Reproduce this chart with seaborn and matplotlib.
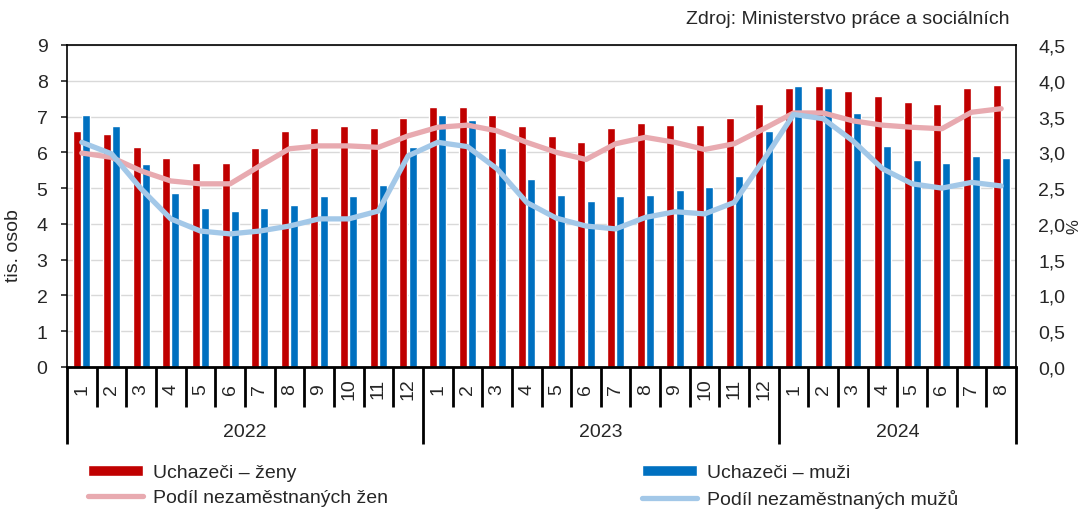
import numpy as np
import pandas as pd
import matplotlib
matplotlib.use("Agg")
import matplotlib.pyplot as plt
import seaborn as sns
from matplotlib.ticker import FuncFormatter

# --------------------------------------------
# DATA
# --------------------------------------------
months = [str(m) for m in range(1, 13)] * 2 + [str(m) for m in range(1, 9)]
years = ["2022"] * 12 + ["2023"] * 12 + ["2024"] * 8

uchazeci_zeny = [6.60, 6.51, 6.16, 5.84, 5.70, 5.70, 6.11, 6.60, 6.69, 6.73, 6.69, 6.96,
                 7.28, 7.28, 7.04, 6.73, 6.46, 6.28, 6.69, 6.82, 6.77, 6.77, 6.96, 7.36,
                 7.81, 7.85, 7.71, 7.58, 7.41, 7.36, 7.81, 7.89]
uchazeci_muzi = [7.05, 6.73, 5.66, 4.86, 4.45, 4.37, 4.45, 4.54, 4.77, 4.77, 5.08, 6.16,
                 7.05, 6.91, 6.11, 5.25, 4.80, 4.63, 4.77, 4.80, 4.94, 5.03, 5.35, 6.60,
                 7.85, 7.81, 7.09, 6.19, 5.79, 5.70, 5.89, 5.84]
podil_zeny = [2.99, 2.93, 2.74, 2.60, 2.56, 2.56, 2.81, 3.05, 3.09, 3.09, 3.07, 3.23,
              3.35, 3.38, 3.30, 3.14, 3.00, 2.90, 3.12, 3.21, 3.14, 3.04, 3.12, 3.33,
              3.55, 3.55, 3.44, 3.38, 3.35, 3.33, 3.56, 3.61]
podil_muzi = [3.14, 2.98, 2.49, 2.07, 1.90, 1.86, 1.90, 1.97, 2.07, 2.07, 2.18, 2.95,
              3.14, 3.08, 2.77, 2.30, 2.08, 1.97, 1.93, 2.09, 2.17, 2.14, 2.30, 2.90,
              3.53, 3.47, 3.16, 2.77, 2.56, 2.50, 2.58, 2.53]

lbl_zeny = "Uchazeči – ženy"
lbl_muzi = "Uchazeči – muži"
lbl_pz = "Podíl nezaměstnaných žen"
lbl_pm = "Podíl nezaměstnaných mužů"

RED, BLUE = "#C00000", "#0070C0"
PINK, LBLUE = "#E8AAB0", "#A3C8E8"

# --------------------------------------------
# STYLE
# --------------------------------------------
sns.set_style("white")
plt.rcParams["font.family"] = ["Liberation Sans", "DejaVu Sans"]
plt.rcParams["font.size"] = 14

n = len(months)
pos = np.arange(n)
df = pd.DataFrame({
    "pos": np.concatenate([pos, pos]),
    "val": uchazeci_zeny + uchazeci_muzi,
    "serie": [lbl_zeny] * n + [lbl_muzi] * n,
})

fig = plt.figure(figsize=(10.83, 5.10), dpi=100)
ax = fig.add_axes([67 / 1083, 1 - 368 / 510, 949 / 1083, 322 / 510])

sns.barplot(data=df, x="pos", y="val", hue="serie", palette=[RED, BLUE],
            saturation=1, width=0.62, gap=0.13, errorbar=None, legend=False, ax=ax)

ax.set_xlim(-0.5, n - 0.5)
ax.set_ylim(0, 9)
ax.set_yticks(range(0, 10))
ax.set_axisbelow(True)
ax.yaxis.grid(True, color="#D9D9D9", linewidth=1)
ax.set_xticks([])
ax.set_xlabel("")
ax.set_ylabel("tis. osob", fontsize=14)
ax.yaxis.set_label_coords(-0.047, 0.38)
ax.tick_params(axis="y", length=4, width=1.2, direction="out", pad=10, labelsize=14, left=True)
for s in ax.spines.values():
    s.set_visible(True)
    s.set_color("black")
    s.set_linewidth(1.2)
ax.spines["bottom"].set_linewidth(2)

# right axis with percentage lines
ax2 = ax.twinx()
sns.lineplot(x=pos, y=podil_zeny, color=PINK, linewidth=3.8, ax=ax2,
             solid_joinstyle="round", solid_capstyle="round")
sns.lineplot(x=pos, y=podil_muzi, color=LBLUE, linewidth=3.8, ax=ax2,
             solid_joinstyle="round", solid_capstyle="round")
ax2.set_ylim(0, 4.5)
ax2.set_yticks(np.arange(0, 4.51, 0.5))
ax2.yaxis.set_major_formatter(FuncFormatter(lambda v, p: f"{v:.1f}".replace(".", ",")))
ax2.tick_params(axis="y", length=0, pad=16, labelsize=14, right=True)
ax2.set_ylabel("%", fontsize=12)
ax2.yaxis.set_label_coords(1.053, 0.44)
for s in ax2.spines.values():
    s.set_visible(False)
ax2.set_xlim(-0.5, n - 0.5)

# --------------------------------------------
# CATEGORY AXIS: months + years
# --------------------------------------------
trans = ax.get_xaxis_transform()
for i, m in enumerate(months):
    ax.text(i, -0.066, m, rotation=90, ha="center", va="center",
            fontsize=14, transform=trans)
edges = np.arange(-0.5, n, 1.0)
year_edges = [-0.5] + [i + 0.5 for i in range(n - 1) if years[i] != years[i + 1]] + [n - 0.5]
for e in edges:
    bottom = -0.239 if e in year_edges else -0.124
    ax.plot([e, e], [0, bottom], color="black", linewidth=2, transform=trans,
            clip_on=False, solid_capstyle="butt")
for y in dict.fromkeys(years):
    idx = [i for i, v in enumerate(years) if v == y]
    ax.text(np.mean(idx), -0.199, y, ha="center", va="center", fontsize=14,
            transform=trans)

# --------------------------------------------
# LEGEND + SOURCE
# --------------------------------------------
bars_z = ax.containers[0].patches[0]
bars_m = ax.containers[1].patches[0]
line_z, line_m = ax2.get_lines()[0], ax2.get_lines()[1]

kw = dict(frameon=False, loc="upper left", borderpad=0, borderaxespad=0,
          handlelength=2.85, handleheight=0.5, handletextpad=0.5,
          labelspacing=0.42, fontsize=14)
leg1 = fig.legend([bars_z, line_z], [lbl_zeny, lbl_pz],
                  bbox_to_anchor=(88 / 1083, 1 - 465 / 510), **kw)
leg2 = fig.legend([bars_m, line_m], [lbl_muzi, lbl_pm],
                  bbox_to_anchor=(642 / 1083, 1 - 465 / 510), **kw)

fig.text(1010 / 1083, 1 - 20 / 510, "Zdroj: Ministerstvo práce a sociálních",
         ha="right", va="center", fontsize=14)

fig.savefig("out.png", dpi=100)
